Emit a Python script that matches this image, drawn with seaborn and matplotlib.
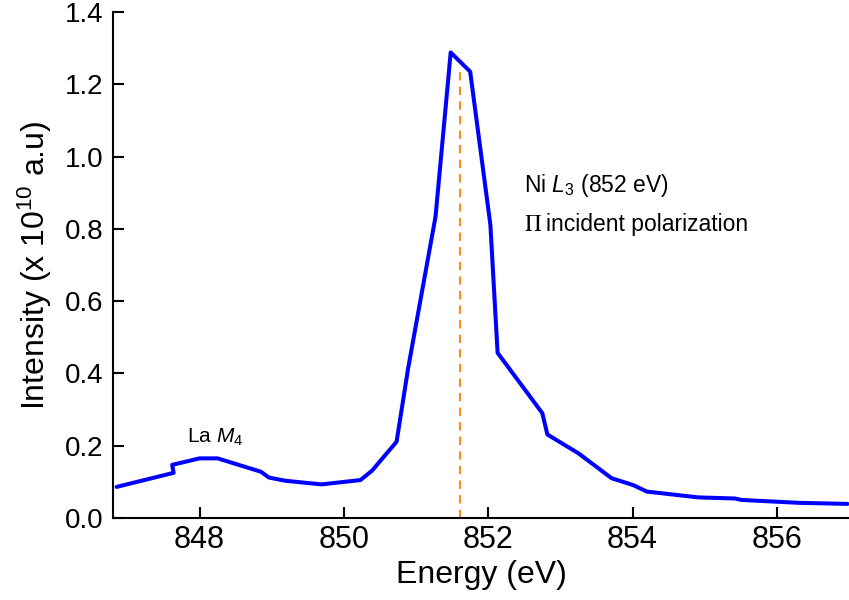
import matplotlib
matplotlib.use("Agg")
import matplotlib.pyplot as plt
import seaborn as sns
import pandas as pd

energy = [846.85, 847.64, 847.62, 848.0, 848.25, 848.85, 848.96, 849.19, 849.69,
          850.23, 850.39, 850.73, 850.89, 851.27, 851.48, 851.75, 852.03, 852.13,
          852.75, 852.82, 853.25, 853.71, 854.01, 854.2, 854.91, 855.42, 855.51,
          856.3, 856.98]
intensity = [0.086, 0.125, 0.147, 0.165, 0.165, 0.128, 0.112, 0.103, 0.093,
             0.105, 0.131, 0.211, 0.414, 0.834, 1.288, 1.235, 0.811, 0.457,
             0.290, 0.231, 0.179, 0.110, 0.091, 0.073, 0.057, 0.054, 0.050,
             0.042, 0.039]
marker_energy = 851.61
marker_top = 1.25
xticks = [848, 850, 852, 854, 856]
yticks = [0.0, 0.2, 0.4, 0.6, 0.8, 1.0, 1.2, 1.4]

sns.set_style("ticks")
plt.rcParams['font.family'] = ['Liberation Sans', 'DejaVu Sans']
plt.rcParams['text.color'] = 'black'
plt.rcParams['axes.labelcolor'] = 'black'
plt.rcParams['mathtext.fontset'] = 'custom'
plt.rcParams['mathtext.rm'] = 'Liberation Sans'
plt.rcParams['mathtext.it'] = 'Liberation Sans:italic'
plt.rcParams['mathtext.bf'] = 'Liberation Sans:bold'

df = pd.DataFrame({"Energy": energy, "Intensity": intensity})

fig = plt.figure(figsize=(8.49, 6.0), dpi=100)
ax = fig.add_axes([113/849, 1-518/600, 1-113/849, (518-12)/600])

sns.lineplot(data=df, x="Energy", y="Intensity", sort=False, estimator=None,
             color="#0000ff", linewidth=2.9, ax=ax)
ax.plot([marker_energy, marker_energy], [0, marker_top], color="#ff8c1a",
        linestyle=(0, (4, 3)), linewidth=1.5)

ax.set_xlim(846.8, 857.0)
ax.set_ylim(0, 1.4)
ax.set_xticks(xticks)
ax.set_yticks(yticks)
ax.set_yticklabels([f"{v:.1f}" for v in yticks])
ax.tick_params(direction="in", length=8, width=1.5, colors="black", pad=6)
ax.tick_params(axis="x", labelsize=22, pad=5)
ax.tick_params(axis="y", labelsize=20, pad=7)
for s in ["top", "right"]:
    ax.spines[s].set_visible(False)
for s in ["left", "bottom"]:
    ax.spines[s].set_linewidth(1.5)
    ax.spines[s].set_color("black")

ax.set_xlabel("Energy (eV)", fontsize=23, labelpad=4)
ax.set_ylabel(r"Intensity (x $10^{10}$ a.u)", fontsize=23, labelpad=8)

ax.text(847.82, 0.224, r"La $\mathit{M_4}$", fontsize=15, va="center", ha="left")
ax.text(852.49, 0.919, r"Ni $\mathit{L_3}$ (852 eV)", fontsize=16.5, va="center", ha="left")
ax.text(852.49, 0.811, r"$\Pi$", fontsize=16.5, va="center", ha="left", math_fontfamily="stix")
ax.text(852.80, 0.811, "incident polarization", fontsize=16.5, va="center", ha="left")

fig.savefig("out.png", dpi=100)
